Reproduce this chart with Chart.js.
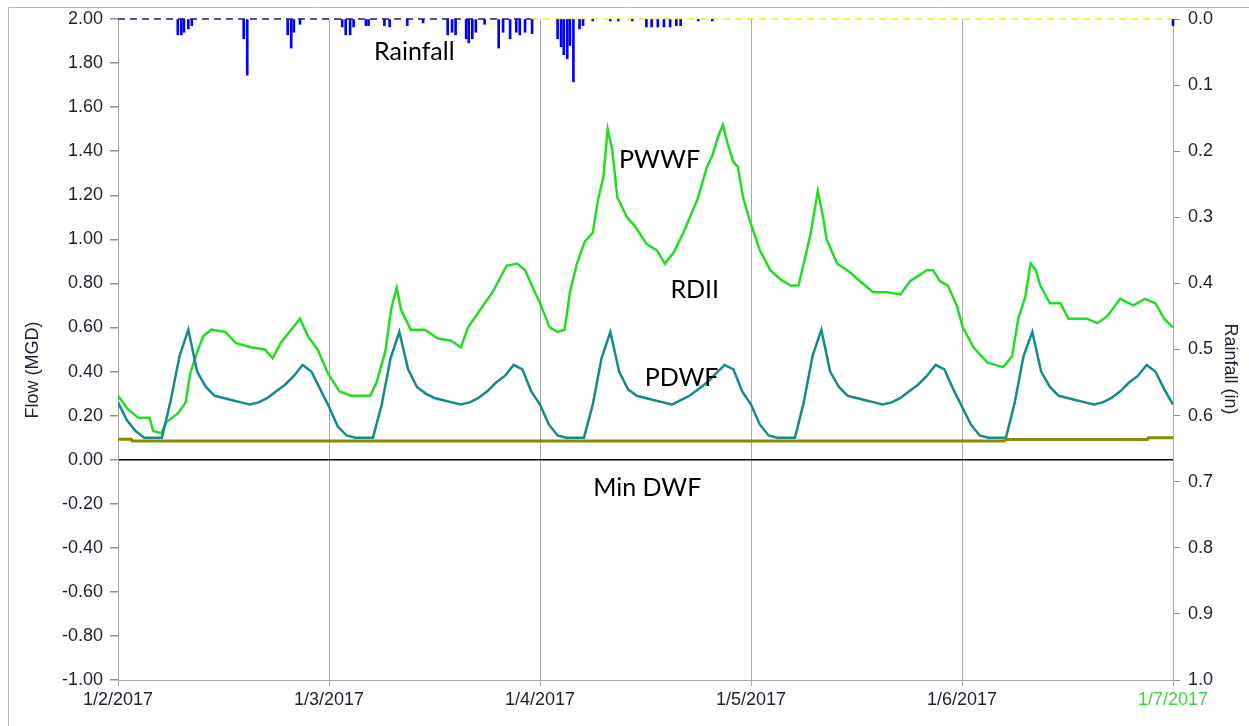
<!DOCTYPE html>
<html>
<head>
<meta charset="utf-8">
<script src="https://cdn.jsdelivr.net/npm/chart.js@4.4.1/dist/chart.umd.min.js"></script>
<style>
  html, body { margin: 0; padding: 0; background: #fff; }
  #wrap { width: 1249px; height: 726px; }
</style>
</head>
<body>
<div id="wrap"><canvas id="flowChart" width="1249" height="726"></canvas></div>
<script>
// x axis is hours since 1/2/2017 00:00
const dateLabels = ['1/2/2017', '1/3/2017', '1/4/2017', '1/5/2017', '1/6/2017', '1/7/2017'];

const pwwfHours = [
  0, 1.1, 2.3, 3.6, 4.0, 4.9, 5.5, 6.8, 7.7, 8.2, 9.1, 9.7, 10.6, 12.2, 13.4, 15.1, 16.7, 17.6, 18.5, 19.7,
  20.7, 21.6, 22.7, 23.9, 25.2, 26.5, 28.7, 29.4, 30.4, 31.1, 31.7, 32.2, 33.3, 34.9, 36.4, 37.9, 39.0, 39.8,
  41.2, 42.6, 44.2, 45.4, 46.3, 47.3, 48.0, 49.1, 50.0, 50.8, 51.4, 52.2, 53.1, 54.0, 54.6, 55.2, 55.7, 56.2,
  56.8, 57.9, 58.8, 60.1, 61.3, 62.2, 63.2, 64.3, 65.9, 67.0, 67.6, 68.3, 68.8, 69.3, 70.0, 70.5, 71.1, 71.9,
  73.0, 74.2, 75.3, 76.5, 77.4, 78.0, 78.8, 79.6, 80.2, 80.6, 81.8, 83.3, 84.1, 85.9, 87.5, 89.0, 90.1, 92.0,
  92.7, 93.5, 94.4, 95.4, 96.1, 97.3, 98.9, 100.7, 101.7, 102.4, 103.2, 103.8, 104.4, 104.9, 106.0, 107.2,
  108.1, 110.2, 111.4, 112.5, 114.0, 115.5, 116.8, 118.0, 119.0, 120.0
];
const pwwfFlow = [
  0.29, 0.23, 0.19, 0.19, 0.13, 0.12, 0.17, 0.21, 0.26, 0.39, 0.50, 0.56, 0.59, 0.58, 0.53, 0.51, 0.50, 0.46, 0.53, 0.59,
  0.64, 0.56, 0.50, 0.39, 0.31, 0.29, 0.29, 0.35, 0.49, 0.69, 0.78, 0.68, 0.59, 0.59, 0.55, 0.54, 0.51, 0.60,
  0.68, 0.76, 0.88, 0.89, 0.86, 0.77, 0.71, 0.60, 0.58, 0.59, 0.76, 0.89, 0.99, 1.03, 1.18, 1.28, 1.50, 1.41,
  1.19, 1.10, 1.06, 0.98, 0.95, 0.89, 0.94, 1.03, 1.18, 1.33, 1.38, 1.47, 1.52, 1.44, 1.35, 1.33, 1.19, 1.08,
  0.95, 0.86, 0.82, 0.79, 0.79, 0.89, 1.03, 1.22, 1.10, 1.00, 0.89, 0.85, 0.82, 0.76, 0.76, 0.75, 0.81, 0.86,
  0.86, 0.81, 0.79, 0.70, 0.60, 0.51, 0.44, 0.42, 0.47, 0.64, 0.74, 0.89, 0.86, 0.79, 0.71, 0.71,
  0.64, 0.64, 0.62, 0.65, 0.73, 0.70, 0.73, 0.71, 0.64, 0.60
];

// hourly dry weather flow
const pdwfFlow = [
  0.26, 0.18, 0.13, 0.10, 0.10, 0.10, 0.27, 0.47, 0.59, 0.40, 0.33, 0.29, 0.28, 0.27, 0.26, 0.25, 0.26, 0.28, 0.31, 0.34, 0.38, 0.43, 0.40, 0.32,
  0.24, 0.15, 0.11, 0.10, 0.10, 0.10, 0.25, 0.46, 0.58, 0.41, 0.33, 0.30, 0.28, 0.27, 0.26, 0.25, 0.26, 0.28, 0.31, 0.35, 0.38, 0.43, 0.41, 0.31,
  0.25, 0.16, 0.11, 0.10, 0.10, 0.10, 0.25, 0.46, 0.58, 0.40, 0.32, 0.29, 0.28, 0.27, 0.26, 0.25, 0.27, 0.29, 0.32, 0.35, 0.39, 0.43, 0.41, 0.31,
  0.25, 0.16, 0.11, 0.10, 0.10, 0.10, 0.26, 0.47, 0.59, 0.40, 0.33, 0.29, 0.28, 0.27, 0.26, 0.25, 0.26, 0.28, 0.31, 0.34, 0.38, 0.43, 0.41, 0.32,
  0.24, 0.16, 0.11, 0.10, 0.10, 0.10, 0.26, 0.47, 0.58, 0.40, 0.33, 0.29, 0.28, 0.27, 0.26, 0.25, 0.26, 0.28, 0.31, 0.35, 0.38, 0.43, 0.40, 0.32,
  0.25
];

const minDwfHours = [0, 1.5, 1.6, 100.8, 100.9, 117.1, 117.2, 120];
const minDwfFlow = [0.093, 0.093, 0.085, 0.085, 0.092, 0.092, 0.100, 0.100];

const rainHours = [
  6.8, 7.2, 7.5, 8.0, 8.4, 14.3, 14.7, 19.3, 19.7, 20.0, 20.7, 25.5, 25.9, 26.4, 26.8, 28.2, 28.5, 30.3, 30.9,
  32.9, 34.7, 37.5, 38.0, 38.4, 39.6, 39.9, 40.3, 40.7, 41.7, 43.3, 43.8, 44.6, 45.3, 45.7, 46.3, 47.1,
  50.0, 50.4, 50.7, 51.1, 51.4, 51.8, 52.5, 52.9, 54.0, 56.0, 56.9, 58.5, 60.1, 60.7, 61.4, 62.1, 62.8,
  63.5, 64.0, 66.0, 67.6, 120.0
];
const rainInches = [
  0.024, 0.024, 0.020, 0.015, 0.010, 0.030, 0.085, 0.024, 0.044, 0.020, 0.008, 0.012, 0.024, 0.024, 0.012, 0.010, 0.010, 0.010, 0.012,
  0.010, 0.006, 0.024, 0.020, 0.024, 0.030, 0.036, 0.030, 0.020, 0.008, 0.044, 0.020, 0.030, 0.020, 0.024, 0.020, 0.022,
  0.030, 0.042, 0.054, 0.060, 0.040, 0.095, 0.015, 0.010, 0.003, 0.003, 0.003, 0.003, 0.012, 0.012, 0.012, 0.012, 0.012,
  0.010, 0.010, 0.003, 0.003, 0.010
];

// zero-rain reference line along the top edge
const rainBaseDarkHours = [0, 47];
const rainBaseHours = [47, 120];

const labels = [
  { text: 'Rainfall', hour: 33.7, flow: 1.85 },
  { text: 'PWWF', hour: 61.6, flow: 1.36 },
  { text: 'RDII', hour: 65.6, flow: 0.77 },
  { text: 'PDWF', hour: 64.1, flow: 0.37 },
  { text: 'Min DWF', hour: 60.2, flow: -0.13 }
];

const tickFont = { family: 'Liberation Sans, Arial, sans-serif', size: 18 };
const tickColor = '#1e1e2e';
const axisGray = '#a8a8a8';

const pts = (xs, ys) => xs.map((x, i) => ({ x: x, y: ys[i] }));

const extras = {
  id: 'extras',
  beforeDraw(chart) {
    const c = chart.ctx;
    c.save();
    c.fillStyle = '#fff';
    c.fillRect(0, 0, chart.width, chart.height);
    c.strokeStyle = '#b4b4b4';
    c.lineWidth = 1;
    c.beginPath();
    c.moveTo(8.5, chart.height);
    c.lineTo(8.5, 7.5);
    c.lineTo(chart.width, 7.5);
    c.stroke();
    c.restore();
  },
  afterDraw(chart) {
    const c = chart.ctx;
    const xs = chart.scales.x, ys = chart.scales.y;
    c.save();
    c.fillStyle = '#000';
    c.textAlign = 'center';
    c.textBaseline = 'middle';
    c.font = '25px Lato, "Open Sans", sans-serif';
    labels.forEach(l => c.fillText(l.text, xs.getPixelForValue(l.hour), ys.getPixelForValue(l.flow)));

    c.font = '18px "Liberation Sans", Arial, sans-serif';
    c.fillStyle = tickColor;
    c.translate(33, 370);
    c.rotate(-Math.PI / 2);
    c.fillText('Flow (MGD)', 0, 0);
    c.restore();

    c.save();
    c.font = '18px "Liberation Sans", Arial, sans-serif';
    c.fillStyle = tickColor;
    c.textAlign = 'center';
    c.textBaseline = 'middle';
    c.translate(1230, 369);
    c.rotate(Math.PI / 2);
    c.fillText('Rainfall (in)', 0, 0);
    c.restore();
  }
};

new Chart(document.getElementById('flowChart'), {
  type: 'line',
  data: {
    datasets: [
      {
        label: 'PWWF',
        data: pts(pwwfHours, pwwfFlow),
        borderColor: '#22dd22',
        borderWidth: 2.5,
        pointRadius: 0,
        tension: 0,
        order: 3
      },
      {
        label: 'PDWF',
        data: pts(pdwfFlow.map((v, i) => i), pdwfFlow),
        borderColor: '#148a8a',
        borderWidth: 2.5,
        pointRadius: 0,
        tension: 0,
        order: 2
      },
      {
        label: 'Min DWF',
        data: pts(minDwfHours, minDwfFlow),
        borderColor: '#8c8a00',
        borderWidth: 3,
        pointRadius: 0,
        tension: 0,
        order: 1
      },
      {
        label: 'Rain base',
        data: pts(rainBaseHours, [0, 0]),
        yAxisID: 'y2',
        borderColor: '#f2f200',
        borderWidth: 1.5,
        borderDash: [7, 5],
        pointRadius: 0,
        clip: false,
        order: 5
      },
      {
        label: 'Rain base dark',
        data: pts(rainBaseDarkHours, [0, 0]),
        yAxisID: 'y2',
        borderColor: '#1a1a7a',
        borderWidth: 1.5,
        borderDash: [7, 5],
        pointRadius: 0,
        clip: false,
        order: 5
      },
      {
        type: 'bar',
        label: 'Rainfall',
        data: pts(rainHours, rainInches),
        yAxisID: 'y2',
        backgroundColor: '#0000ff',
        barThickness: 2,
        grouped: false,
        clip: false,
        order: 4
      }
    ]
  },
  options: {
    responsive: false,
    animation: false,
    devicePixelRatio: 1,
    layout: { padding: { top: 19, left: 0, right: 0, bottom: 0 } },
    plugins: {
      legend: { display: false },
      tooltip: { enabled: false }
    },
    scales: {
      x: {
        type: 'linear',
        min: 0,
        max: 120,
        offset: false,
        ticks: {
          stepSize: 24,
          autoSkip: false,
          maxRotation: 0,
          padding: 3,
          font: tickFont,
          color: ctx => ctx.index === 5 ? '#3cd43c' : tickColor,
          callback: v => dateLabels[Math.round(v / 24)]
        },
        grid: { offset: false, color: axisGray, tickColor: axisGray, tickLength: 6 },
        border: { color: axisGray },
        afterFit: s => { s.height = 46; }
      },
      y: {
        position: 'left',
        min: -1,
        max: 2,
        ticks: {
          stepSize: 0.2,
          padding: 7,
          font: tickFont,
          color: tickColor,
          callback: v => v.toFixed(2)
        },
        grid: {
          color: ctx => (ctx.tick && Math.abs(ctx.tick.value) < 1e-9) ? '#000' : 'rgba(0,0,0,0)',
          lineWidth: 1.5,
          tickColor: '#909090',
          tickLength: 8
        },
        border: { color: axisGray },
        afterFit: s => { s.width = 118; }
      },
      y2: {
        position: 'right',
        min: 0,
        max: 1,
        reverse: true,
        ticks: {
          stepSize: 0.1,
          padding: 8,
          font: tickFont,
          color: tickColor,
          callback: v => v.toFixed(1)
        },
        grid: { drawOnChartArea: false, tickColor: '#909090', tickLength: 7 },
        border: { color: axisGray },
        afterFit: s => { s.width = 76; }
      }
    }
  },
  plugins: [extras]
});
</script>
</body>
</html>
